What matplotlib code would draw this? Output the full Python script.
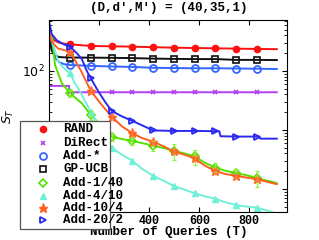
import matplotlib
matplotlib.use("Agg")
import matplotlib.pyplot as plt
from matplotlib.lines import Line2D
from matplotlib.patches import Rectangle

# ---------------- data ----------------
MARK_X = [83, 166, 249, 332, 415, 498, 581, 664, 747, 830]

rand_x = [0, 10, 20, 40, 60, 83, 166, 249, 332, 415, 498, 581, 664, 747, 830, 910]
rand_y = [520, 380, 330, 300, 290, 283, 265, 262, 258, 253, 248, 245, 242, 239, 236, 234]

direct_x = [0, 79, 79.5, 83, 166, 249, 332, 415, 498, 581, 664, 747, 830, 910]
direct_y = [55.7, 55.7, 43.5, 43.5, 43.5, 43.5, 43.5, 43.5, 43.5, 43.5, 43.5, 43.5, 43.5, 43.5]

addstar_x = [0, 10, 20, 40, 60, 83, 166, 249, 332, 415, 498, 581, 664, 747, 830, 910]
addstar_y = [520, 260, 175, 140, 130, 126, 122, 119, 117, 113, 112, 111, 111, 110, 109, 108]

gpucb_x = [0, 10, 20, 40, 60, 83, 166, 249, 332, 415, 498, 581, 664, 747, 830, 910]
gpucb_y = [330, 220, 185, 172, 170, 169, 168, 167, 165, 162, 160, 159, 159, 154, 154, 153]

add1_x = [0, 12, 23, 50, 83, 130, 166, 249, 290, 332, 370, 415, 460, 498, 540, 581,
          620, 664, 700, 747, 790, 830, 870, 910]
add1_y = [450, 350, 126, 62, 41.9, 28.3, 18, 7.7, 7.0, 6.5, 6.0, 5.4, 4.9, 4.4, 4.0, 3.55,
          2.8, 2.3, 2.05, 1.85, 1.7, 1.52, 1.38, 1.25]
add1_err = [6, 3, 1.2, 1.0, 1.1, 1.3, 1.0, 0.4, 0.3, 0.45]

add4_x = [0, 10, 36, 60, 83, 100, 123, 166, 200, 249, 290, 332, 370, 415, 460, 498, 540,
          581, 620, 664, 700, 747, 790, 830, 870, 910]
add4_y = [460, 335, 143, 110, 91, 65, 44.6, 20.4, 11, 5.0, 3.8, 3.0, 2.2, 1.68, 1.35, 1.12,
          0.97, 0.845, 0.75, 0.68, 0.6, 0.53, 0.5, 0.48, 0.43, 0.38]

add10_x = [0, 8, 20, 35, 60, 83, 125, 166, 210, 249, 290, 332, 370, 415, 460, 498, 540,
           581, 620, 664, 700, 747, 790, 830, 870, 910]
add10_y = [480, 330, 280, 240, 225, 212, 104, 45.8, 26.5, 16.8, 11.5, 8.8, 7.3, 6.3, 5.2,
           4.3, 3.8, 3.3, 2.5, 2.02, 1.8, 1.66, 1.55, 1.46, 1.32, 1.2]
add10_err = [15, 4, 1.5, 0.8, 0.5, 0.4, 0.35, 0.2, 0.15, 0.12]

add20_x = [0, 10, 30, 60, 83, 110, 130, 150, 166, 196, 223, 249, 290, 332, 370, 415, 498,
           581, 664, 680, 685, 747, 830, 840, 845, 910]
add20_y = [650, 420, 330, 280, 258, 200, 160, 100, 75, 45, 30, 21, 17, 14.2, 12, 9.8, 9.6,
           9.6, 9.5, 9.5, 7.8, 7.7, 7.7, 7.7, 7.1, 7.1]

labels = ["RAND", "DiRect", "Add-*", "GP-UCB", "Add-1/40", "Add-4/10", "Add-10/4", "Add-20/2"]
title = "(D,d',M') = (40,35,1)"
xticks = [0, 200, 400, 600, 800]

# ---------------- style ----------------
W, H = 319, 240
fig = plt.figure(figsize=(W / 100, H / 100), dpi=100)
ax = fig.add_axes([49.3 / W, 1 - 212.3 / H, (287.3 - 49.3) / W, (212.3 - 19.7) / H])

mono = ['Liberation Mono', 'DejaVu Sans Mono']

series = [
    (rand_x, rand_y, dict(color='#ff1010', marker='o', mfc='#ff1010', mec='#ff1010', ms=4.5)),
    (direct_x, direct_y, dict(color='#b040f0', marker='x', mfc='none', mec='#b040f0', ms=3.5, mew=1.2)),
    (addstar_x, addstar_y, dict(color='#3366ff', marker='o', mfc='none', mec='#3366ff', ms=5, mew=1.3)),
    (gpucb_x, gpucb_y, dict(color='#111111', marker='s', mfc='none', mec='#111111', ms=4.5, mew=1.2)),
    (add1_x, add1_y, dict(color='#55e000', marker='D', mfc='none', mec='#55e000', ms=4, mew=1.2)),
    (add4_x, add4_y, dict(color='#70f0d8', marker='^', mfc='#70f0d8', mec='#70f0d8', ms=5)),
    (add10_x, add10_y, dict(color='#ff6020', marker='*', mfc='#ff6020', mec='#ff6020', ms=6.5)),
    (add20_x, add20_y, dict(color='#2a2aee', marker='>', mfc='none', mec='#2a2aee', ms=5, mew=1.3)),
]

for (xs, ys, st), lab in zip(series, labels):
    idx = [i for i, x in enumerate(xs) if x in MARK_X]
    ax.plot(xs, ys, lw=1.4, markevery=idx, label=lab, **st)

# error bars
for xs, ys, err, col in [(add1_x, add1_y, add1_err, '#90f040'), (add10_x, add10_y, add10_err, '#ff8040')]:
    mx = [x for x in xs if x in MARK_X]
    my = [y for x, y in zip(xs, ys) if x in MARK_X]
    ax.errorbar(mx, my, yerr=err, fmt='none', ecolor=col, elinewidth=0.9, capsize=1.5, capthick=0.9)

ax.set_yscale('log')
ax.set_xlim(0, 952)
ax.set_ylim(0.40, 740)
ax.set_xticks(xticks)
ax.set_xticklabels([str(t) for t in xticks], family=mono, fontweight='bold', fontsize=8.5)
ax.tick_params(which='both', direction='in', top=True, right=True, labelsize=8.5)
ax.tick_params(axis='x', pad=2.3)
ax.tick_params(which='major', length=3.5)
ax.tick_params(which='minor', length=2)
for lab in ax.get_yticklabels():
    lab.set_fontsize(9)

ax.set_title(title, family=mono, fontweight='bold', fontsize=9, pad=6)
ax.set_xlabel("Number of Queries (T)", family=mono, fontweight='bold', fontsize=9, labelpad=-1.0)
ax.set_ylabel("$S_T$", fontsize=9)
ax.yaxis.set_label_coords(-0.14, 0.5)

# legend box (text overflows the box like in the original)
box = Rectangle((20 / W, 1 - 229 / H), 90 / W, (229 - 120.7) / H, transform=fig.transFigure,
                facecolor='white', edgecolor='#555555', lw=0.9, zorder=3)
fig.add_artist(box)
row_y = [129.3, 142.7, 156.0, 169.3, 182.7, 196.0, 208.3, 220.0]
for (xs, ys, st), lab, yc in zip(series, labels, row_y):
    h = Line2D([42.7 / W], [1 - yc / H], linestyle='none', transform=fig.transFigure, zorder=4,
               **{k: v for k, v in st.items() if k != 'color'})
    fig.add_artist(h)
    fig.text(63.3 / W, 1 - yc / H, lab, family=mono, fontweight='bold', fontsize=9,
             va='center', ha='left', zorder=4)

fig.savefig("out.png", dpi=100)
